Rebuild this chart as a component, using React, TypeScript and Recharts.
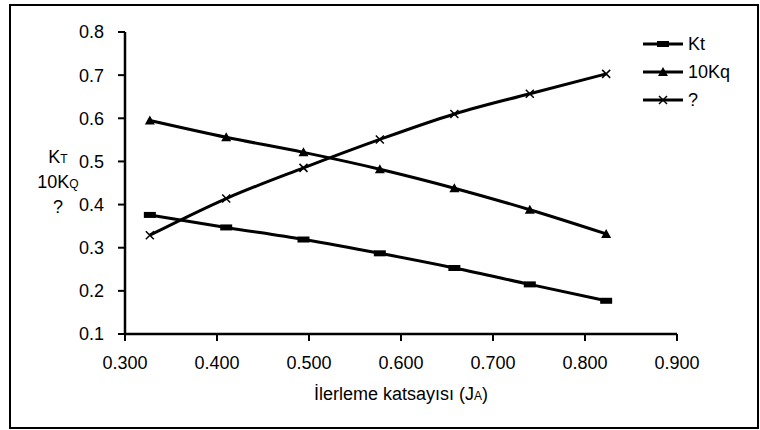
import { Line, LineChart, XAxis, YAxis } from "recharts";

const advance = [0.327, 0.41, 0.494, 0.577, 0.658, 0.74, 0.823];
const kt = [0.376, 0.347, 0.319, 0.287, 0.253, 0.215, 0.177];
const tenKq = [0.595, 0.556, 0.521, 0.482, 0.438, 0.388, 0.332];
const efficiency = [0.329, 0.414, 0.485, 0.551, 0.61, 0.657, 0.703];

const xTicks = [0.3, 0.4, 0.5, 0.6, 0.7, 0.8, 0.9];
const yTicks = [0.1, 0.2, 0.3, 0.4, 0.5, 0.6, 0.7, 0.8];

const FONT = '"Liberation Sans", Arial, sans-serif';

const data = advance.map((j, i) => ({
  j,
  kt: kt[i],
  kq: tenKq[i],
  eta: efficiency[i],
}));

type DotProps = { cx?: number; cy?: number; index?: number };

function BarDot({ cx = 0, cy = 0, index }: DotProps) {
  return <rect key={index} x={cx - 6} y={cy - 3} width={12} height={6} fill="#000" />;
}

function TriangleDot({ cx = 0, cy = 0, index }: DotProps) {
  return (
    <path
      key={index}
      d={`M${cx},${cy - 5} L${cx + 5},${cy + 4} L${cx - 5},${cy + 4} Z`}
      fill="#000"
    />
  );
}

function CrossDot({ cx = 0, cy = 0, index }: DotProps) {
  return (
    <path
      key={index}
      d={`M${cx - 4},${cy - 4} L${cx + 4},${cy + 4} M${cx + 4},${cy - 4} L${cx - 4},${cy + 4}`}
      stroke="#000"
      strokeWidth={1.5}
      fill="none"
    />
  );
}

function LegendRow({ label, marker, top }: { label: string; marker: string; top: number }) {
  return (
    <div style={{ position: "absolute", left: 643, top, display: "flex", alignItems: "center" }}>
      <svg width={42} height={14}>
        <line x1={0} y1={7} x2={40} y2={7} stroke="#000" strokeWidth={3} />
        {marker === "bar" && <rect x={14} y={4} width={12} height={6} fill="#000" />}
        {marker === "tri" && <path d="M20,2 L25,11 L15,11 Z" fill="#000" />}
        {marker === "x" && (
          <path d="M16,3 L24,11 M24,3 L16,11" stroke="#000" strokeWidth={1.5} />
        )}
      </svg>
      <span style={{ marginLeft: 3, fontSize: 18, lineHeight: "18px" }}>{label}</span>
    </div>
  );
}

export default function App() {
  return (
    <div
      style={{
        position: "absolute",
        left: 0,
        top: 0,
        width: 760,
        height: 430,
        background: "#fff",
        fontFamily: FONT,
        color: "#000",
      }}
    >
      <div
        style={{
          position: "absolute",
          left: 9,
          top: 4,
          width: 750,
          height: 425,
          border: "2px solid #000",
          boxSizing: "border-box",
        }}
      />
      <LineChart
        width={760}
        height={430}
        data={data}
        margin={{ top: 32, right: 83, left: 0, bottom: 0 }}
        style={{ position: "absolute", left: 0, top: 0 }}
      >
        <XAxis
          dataKey="j"
          type="number"
          domain={[0.3, 0.9]}
          ticks={xTicks}
          tickFormatter={(v) => (v as number).toFixed(3)}
          tick={{ fill: "#000", fontSize: 18, fontFamily: FONT }}
          axisLine={{ stroke: "#000", strokeWidth: 2.5 }}
          tickLine={{ stroke: "#000", strokeWidth: 2 }}
          tickSize={7}
          tickMargin={15}
          height={96}
          interval={0}
        />
        <YAxis
          type="number"
          domain={[0.1, 0.8]}
          ticks={yTicks}
          tickFormatter={(v) => (v as number).toFixed(1)}
          tick={{ fill: "#000", fontSize: 18, fontFamily: FONT }}
          axisLine={{ stroke: "#000", strokeWidth: 2.5 }}
          tickLine={{ stroke: "#000", strokeWidth: 2 }}
          tickSize={7}
          tickMargin={14}
          width={125}
          interval={0}
        />
        <Line
          type="monotone"
          dataKey="kt"
          stroke="#000"
          strokeWidth={3}
          dot={BarDot}
          activeDot={false}
          isAnimationActive={false}
        />
        <Line
          type="monotone"
          dataKey="kq"
          stroke="#000"
          strokeWidth={3}
          dot={TriangleDot}
          activeDot={false}
          isAnimationActive={false}
        />
        <Line
          type="monotone"
          dataKey="eta"
          stroke="#000"
          strokeWidth={3}
          dot={CrossDot}
          activeDot={false}
          isAnimationActive={false}
        />
      </LineChart>

      <div
        style={{
          position: "absolute",
          left: 28,
          top: 146,
          width: 60,
          textAlign: "center",
          fontSize: 18,
          lineHeight: "23px",
        }}
      >
        <div>
          K<span style={{ fontSize: 12 }}>T</span>
        </div>
        <div>
          10K<span style={{ fontSize: 12 }}>Q</span>
        </div>
        <div>?</div>
      </div>

      <div
        style={{
          position: "absolute",
          left: 125,
          width: 552,
          top: 384,
          textAlign: "center",
          fontSize: 18,
          lineHeight: "20px",
        }}
      >
        İlerleme katsayısı (J<span style={{ fontSize: 12 }}>A</span>)
      </div>

      <LegendRow label="Kt" marker="bar" top={35} />
      <LegendRow label="10Kq" marker="tri" top={63} />
      <LegendRow label="?" marker="x" top={91} />
    </div>
  );
}
